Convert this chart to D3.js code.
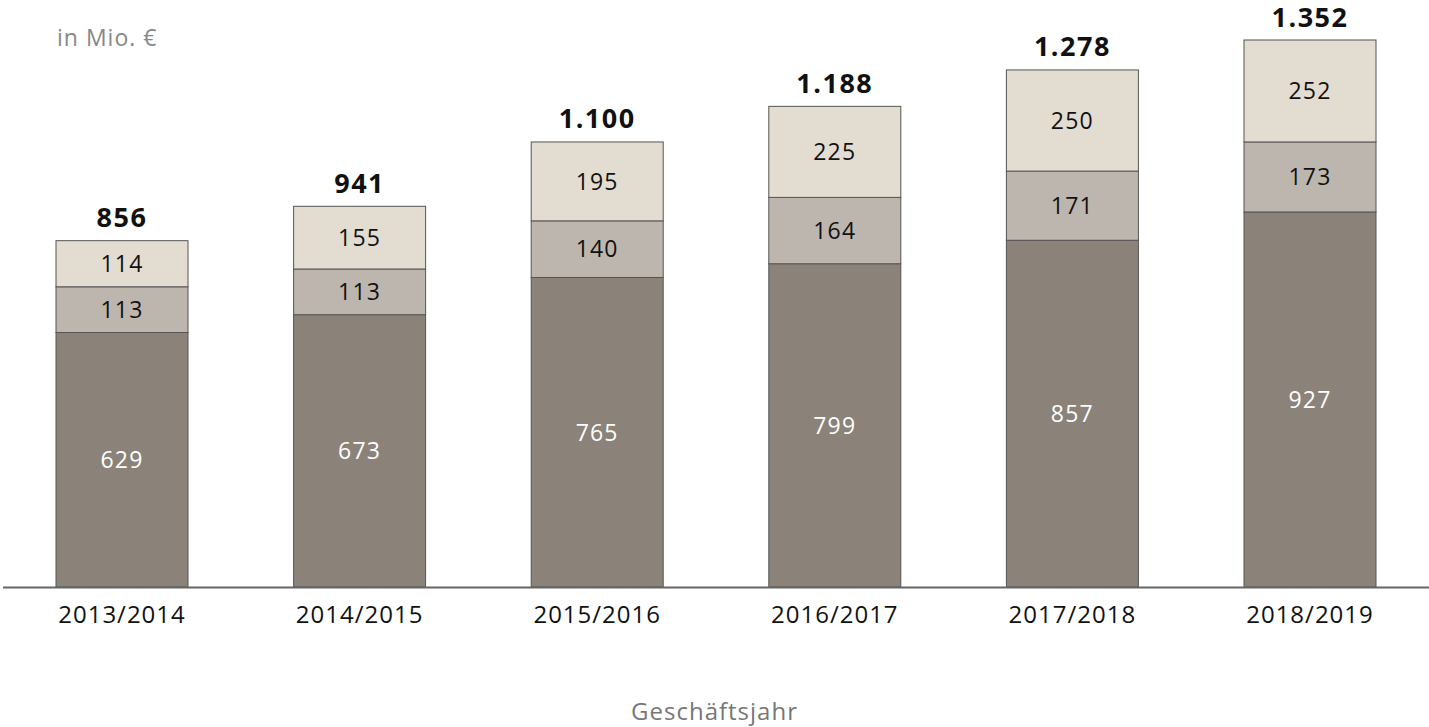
<!DOCTYPE html>
<html>
<head>
<meta charset="utf-8">
<script src="https://cdnjs.cloudflare.com/ajax/libs/d3/7.8.5/d3.min.js"></script>
<style>
html, body { margin: 0; padding: 0; background: #fff; }
svg { display: block; font-family: "Open Sans", "Noto Sans", sans-serif; }
</style>
</head>
<body>
<svg width="1429" height="727"></svg>
<script>
var years = ["2013/2014", "2014/2015", "2015/2016", "2016/2017", "2017/2018", "2018/2019"];
var bottomVals = [629, 673, 765, 799, 857, 927];
var middleVals = [113, 113, 140, 164, 171, 173];
var topVals = [114, 155, 195, 225, 250, 252];
var totals = [856, 941, 1100, 1188, 1278, 1352];
var colors = ["#8b8379", "#bdb6af", "#e3dcd0"];
var textColors = ["#fff", "#111", "#111"];

var svg = d3.select("svg"),
    width = +svg.attr("width"),
    height = +svg.attr("height");

var de = d3.formatLocale({decimal: ",", thousands: ".", grouping: [3], currency: ["", " €"]});
var fmt = de.format(",d");

var x = d3.scaleBand()
    .domain(years)
    .range([56, 1376])
    .paddingInner(0.4444)
    .paddingOuter(0);

var y = d3.scaleLinear()
    .domain([0, 1352])
    .range([587, 40]);

var rows = years.map(function(yr, i) {
  return {year: yr, bottom: bottomVals[i], middle: middleVals[i], top: topVals[i], total: totals[i]};
});

var stack = d3.stack().keys(["bottom", "middle", "top"]);
var series = stack(rows);

var layer = svg.selectAll("g.layer")
  .data(series)
  .enter().append("g")
    .attr("class", "layer");

layer.each(function(s, k) {
  var g = d3.select(this);
  g.selectAll("rect")
    .data(s)
    .enter().append("rect")
      .attr("x", function(d) { return x(d.data.year); })
      .attr("y", function(d) { return y(d[1]); })
      .attr("width", x.bandwidth())
      .attr("height", function(d) { return y(d[0]) - y(d[1]); })
      .attr("fill", colors[k])
      .attr("stroke", "#555")
      .attr("stroke-width", 1);

  g.selectAll("text")
    .data(s)
    .enter().append("text")
      .attr("x", function(d) { return x(d.data.year) + x.bandwidth() / 2; })
      .attr("y", function(d) { return (y(d[0]) + y(d[1])) / 2; })
      .attr("dy", "0.36em")
      .attr("text-anchor", "middle")
      .attr("font-size", 23)
      .attr("letter-spacing", 1.2)
      .attr("fill", textColors[k])
      .text(function(d) { return d.data[s.key]; });
});

// totals
svg.selectAll("text.total")
  .data(rows)
  .enter().append("text")
    .attr("class", "total")
    .attr("x", function(d) { return x(d.year) + x.bandwidth() / 2; })
    .attr("y", function(d) { return y(d.total) - 13.5; })
    .attr("text-anchor", "middle")
    .attr("font-size", 27)
    .attr("font-weight", "bold")
    .attr("letter-spacing", 1.5)
    .attr("fill", "#111")
    .text(function(d) { return fmt(d.total); });

// x axis
var xAxis = d3.axisBottom(x).tickSize(0).tickPadding(19);
var gx = svg.append("g")
    .attr("transform", "translate(0," + y(0) + ")")
    .call(xAxis);
gx.select(".domain").remove();
gx.selectAll("text")
    .attr("font-size", 24)
    .attr("letter-spacing", 1)
    .attr("font-family", "Open Sans, Noto Sans, sans-serif")
    .attr("fill", "#111");

svg.append("line")
    .attr("x1", 3).attr("x2", width)
    .attr("y1", y(0) + 0.5).attr("y2", y(0) + 0.5)
    .attr("stroke", "#666")
    .attr("stroke-width", 2);

svg.append("text")
    .attr("x", 57).attr("y", 46)
    .attr("font-size", 23)
    .attr("letter-spacing", 1)
    .attr("fill", "#888")
    .text("in Mio. €");

svg.append("text")
    .attr("x", width / 2).attr("y", 720)
    .attr("text-anchor", "middle")
    .attr("font-size", 24)
    .attr("letter-spacing", 1)
    .attr("fill", "#777")
    .text("Geschäftsjahr");
</script>
</body>
</html>
